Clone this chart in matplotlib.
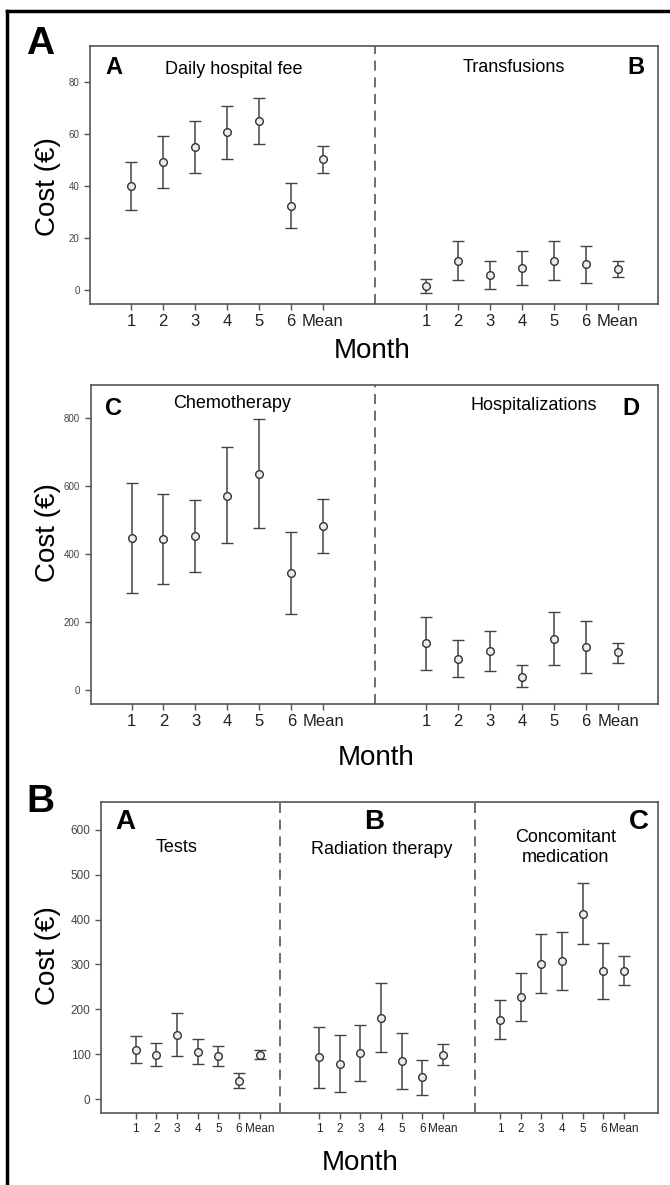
import matplotlib
matplotlib.use('Agg')
import matplotlib.pyplot as plt
from matplotlib.lines import Line2D

months = ['1', '2', '3', '4', '5', '6', 'Mean']

# Panel A (top)
daily_mean = [40.1, 49.2, 55.0, 60.7, 65.1, 32.4, 50.3]
daily_lo = [30.8, 39.4, 45.2, 50.5, 56.2, 23.9, 45.2]
daily_hi = [49.3, 59.1, 65.1, 70.9, 73.8, 41.0, 55.6]
transf_mean = [1.5, 11.2, 5.5, 8.3, 11.2, 9.8, 8.0]
transf_lo = [-1.4, 3.7, 0.3, 1.9, 3.7, 2.7, 5.0]
transf_hi = [4.2, 18.9, 11.2, 15.0, 18.9, 16.8, 11.0]

# Panel A (middle)
chemo_mean = [447, 444, 452, 572, 637, 344, 483]
chemo_lo = [285, 311, 347, 431, 476, 223, 402]
chemo_hi = [609, 576, 558, 715, 799, 466, 562]
hosp_mean = [137, 91, 114, 39, 151, 126, 110]
hosp_lo = [59, 37, 56, 8, 74, 50, 80]
hosp_hi = [215, 146, 173, 72, 230, 203, 139]

# Panel B (bottom)
tests_mean = [109.5, 98.5, 143.8, 105.8, 95.6, 40.9, 98.5]
tests_lo = [79.6, 73.0, 96.4, 78.0, 74.5, 24.1, 88.3]
tests_hi = [140.0, 125.5, 191.0, 133.6, 117.5, 57.7, 109.5]
rad_mean = [92.7, 78.0, 102.2, 181.8, 84.7, 48.2, 97.8]
rad_lo = [24.8, 16.0, 40.9, 104.4, 22.0, 8.8, 75.2]
rad_hi = [160.6, 142.3, 165.7, 259.0, 147.4, 87.6, 121.9]
conc_mean = [176.6, 227.0, 300.7, 308.8, 412.4, 285.4, 285.4]
conc_lo = [133.6, 173.0, 235.8, 243.8, 344.5, 224.0, 253.3]
conc_hi = [221.2, 281.0, 368.0, 373.0, 481.0, 347.4, 318.0]

W, H = 670, 1185
fig = plt.figure(figsize=(W / 100, H / 100), dpi=100)

SANS = ['Liberation Sans', 'DejaVu Sans']
GRAY = '#555555'


def fx(x):
    return x / W


def fy(y):
    return 1 - y / H


def add_axes(l, t, r, b):
    return fig.add_axes([fx(l), fy(b), (r - l) / W, (b - t) / H])


def ftext(x, y, s, size, weight='normal', family=SANS, **kw):
    fig.text(fx(x), fy(y), s, fontsize=size, fontweight=weight, family=family,
             ha='center', va='center', **kw)


def draw_group(ax, start, mean, lo, hi, ms, cap):
    xs = [start + i for i in range(len(mean))]
    yerr = [[m - l for m, l in zip(mean, lo)], [h - m for m, h in zip(mean, hi)]]
    ax.errorbar(xs, mean, yerr=yerr, fmt='o', ms=ms, mfc='#ececec', mec='#333333',
                mew=1.0, ecolor='#444444', elinewidth=1.1, capsize=cap, capthick=1.1,
                zorder=3)
    return xs


def style(ax, xlim, ylim, yticks, ytsize, xtsize, dashes):
    ax.set_xlim(*xlim)
    ax.set_ylim(*ylim)
    ax.set_yticks(yticks)
    ax.set_yticklabels([str(v) for v in yticks], fontsize=ytsize, family=SANS, color='#444444')
    for s in ax.spines.values():
        s.set_color(GRAY)
        s.set_linewidth(1.2)
    ax.tick_params(axis='both', direction='out', length=4, width=1, color=GRAY)
    ax.tick_params(axis='x', labelsize=xtsize, labelcolor='#222222', pad=3)
    for lab in ax.get_xticklabels():
        lab.set_family(SANS)
    for d in dashes:
        ax.axvline(d, color=GRAY, lw=1.2, ls=(0, (6, 4)), zorder=1)


# ---------- Panel 1 ----------
ax1 = add_axes(90, 46, 658, 304)
xa = draw_group(ax1, 1, daily_mean, daily_lo, daily_hi, 5.5, 4.5)
xb = draw_group(ax1, 10.22, transf_mean, transf_lo, transf_hi, 5.5, 4.5)
ax1.set_xticks(xa + xb)
ax1.set_xticklabels(months + months)
style(ax1, (-0.28, 17.47), (-5.5, 94), [0, 20, 40, 60, 80], 7, 12, [8.625])

# ---------- Panel 2 ----------
ax2 = add_axes(90.6, 385, 658, 704)
xa = draw_group(ax2, 1, chemo_mean, chemo_lo, chemo_hi, 5.5, 4.5)
xb = draw_group(ax2, 10.22, hosp_mean, hosp_lo, hosp_hi, 5.5, 4.5)
ax2.set_xticks(xa + xb)
ax2.set_xticklabels(months + months)
style(ax2, (-0.28, 17.47), (-42, 898), [0, 200, 400, 600, 800], 7, 12, [8.625])

# ---------- Panel 3 ----------
ax3 = add_axes(101, 802, 658, 1113)
xa = draw_group(ax3, 1, tests_mean, tests_lo, tests_hi, 5.5, 4)
xb = draw_group(ax3, 9.86, rad_mean, rad_lo, rad_hi, 5.5, 4)
xc = draw_group(ax3, 18.6, conc_mean, conc_lo, conc_hi, 5.5, 4)
ax3.set_xticks(xa + xb + xc)
ax3.set_xticklabels(months * 3)
style(ax3, (-0.67, 26.24), (-31, 662), [0, 100, 200, 300, 400, 500, 600], 8.5, 8.5,
      [7.98, 17.4])

# ---------- Texts ----------
ftext(40, 44.5, 'A', 28, 'bold')
ftext(40.5, 802.5, 'B', 28, 'bold')

for yc in (187, 533, 956):
    ftext(48, yc, 'Cost (€)', 20, rotation=90)
ftext(372.5, 351, 'Month', 20)
ftext(376, 758, 'Month', 20)
ftext(360, 1163, 'Month', 20)

ftext(114, 68, 'A', 17, 'bold')
ftext(234, 69, 'Daily hospital fee', 13)
ftext(514, 68, 'Transfusions', 13)
ftext(636, 68, 'B', 17, 'bold')

ftext(114, 408, 'C', 17, 'bold')
ftext(232.5, 403, 'Chemotherapy', 13)
ftext(534, 405, 'Hospitalizations', 13)
ftext(631, 408, 'D', 17, 'bold')

ftext(125, 822, 'A', 20, 'bold')
ftext(177, 848, 'Tests', 13)
ftext(374.6, 822, 'B', 20, 'bold')
ftext(382, 850, 'Radiation therapy', 13)
ftext(639, 822, 'C', 20, 'bold')
ftext(565.6, 847.5, 'Concomitant\nmedication', 13, linespacing=1.2)

# outer frame lines (top and left)
fig.add_artist(Line2D([fx(7), 1.0], [fy(11), fy(11)], color='black', lw=2.5))
fig.add_artist(Line2D([fx(7), fx(7)], [fy(11), 0.0], color='black', lw=2.5))

fig.savefig('out.png', dpi=100)
